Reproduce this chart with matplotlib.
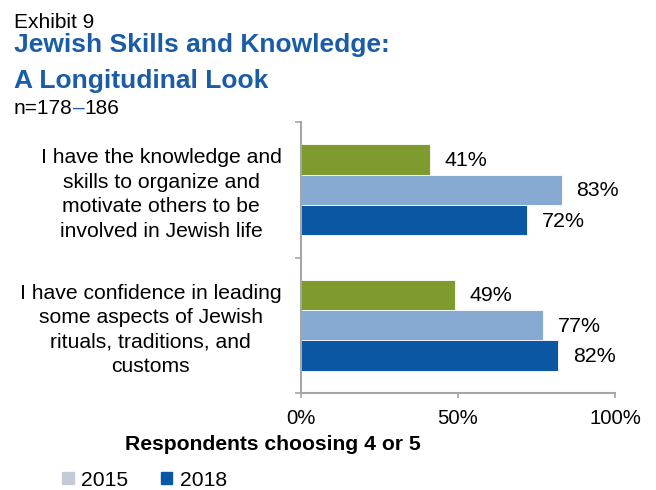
import numpy as np
import matplotlib.pyplot as plt
from matplotlib.patches import Patch

plt.rcParams['font.family'] = ['Liberation Sans', 'DejaVu Sans']

# survey items, top to bottom
items = [
    "I have the knowledge and\nskills to organize and\nmotivate others to be\ninvolved in Jewish life",
    "I have confidence in leading\nsome aspects of Jewish\nrituals, traditions, and\ncustoms",
]
# share of respondents choosing 4 or 5, per wave
wave_green = [41, 49]
wave_2015 = [83, 77]
wave_2018 = [72, 82]
legend_years = ["2015", "2018"]

GREEN = "#7f9a2d"
LIGHT = "#87aad3"
DARK = "#0b57a3"
LEGEND_2015 = "#c3ccd6"
TITLE_BLUE = "#1a5ca8"
GRAY = "#a6a6a6"

W, H = 656, 490
fig = plt.figure(figsize=(W / 100, H / 100), dpi=100)
ax = fig.add_axes([301 / W, 1 - 393 / H, 314 / W, 271 / H])

y = np.arange(len(items))
h = 0.224
for off, vals, col in [(-h, wave_green, GREEN), (0, wave_2015, LIGHT), (h, wave_2018, DARK)]:
    bars = ax.barh(y + off, np.array(vals) / 100, height=h, color=col,
                   edgecolor="white", linewidth=0.6)
    for b, v in zip(bars, vals):
        ax.annotate(f"{v}%", (b.get_width(), b.get_y() + b.get_height() / 2),
                    xytext=(15, -1), textcoords="offset pixels",
                    ha="left", va="center", fontsize=15.4)

ax.set_xlim(0, 1)
ax.set_ylim(len(items) - 0.5, -0.5)

ax.set_xticks([0, 0.5, 1])
ax.set_xticklabels(["0%", "50%", "100%"], fontsize=14.6)
ax.tick_params(axis="x", length=3.5, width=1.2, color=GRAY, pad=8)

ax.set_yticks(y)
ax.set_yticklabels(items, fontsize=15.2, multialignment="center", linespacing=1.365)
ax.set_yticks([-0.5, 0.5, 1.5], minor=True)
ax.tick_params(axis="y", which="major", length=0, pad=14)
ax.tick_params(axis="y", which="minor", length=4, width=1.2, color=GRAY)

for s in ["top", "right"]:
    ax.spines[s].set_visible(False)
for s in ["left", "bottom"]:
    ax.spines[s].set_color(GRAY)
    ax.spines[s].set_linewidth(1.5)

fig.text(273 / W, 1 - 450 / H, "Respondents choosing 4 or 5",
         ha="center", va="baseline", fontsize=15.2, fontweight="bold")

# header block
fig.text(14 / W, 1 - 28 / H, "Exhibit 9", fontsize=15, va="baseline")
fig.text(14 / W, 1 - 52 / H, "Jewish Skills and Knowledge:", fontsize=19,
         fontweight="bold", color=TITLE_BLUE, va="baseline")
fig.text(14 / W, 1 - 88 / H, "A Longitudinal Look", fontsize=19,
         fontweight="bold", color=TITLE_BLUE, va="baseline")

# sample size line, with the range dash in blue
renderer = fig.canvas.get_renderer()
x = 14
for part, col in [("n=178", "black"), ("\u2013", TITLE_BLUE), ("186", "black")]:
    t = fig.text(x / W, 1 - 114 / H, part, fontsize=15, color=col, va="baseline")
    x += t.get_window_extent(renderer).width

handles = [Patch(color=LEGEND_2015), Patch(color=DARK)]
fig.legend(handles, legend_years, loc="center left", bbox_to_anchor=(62 / W, 1 - 480 / H),
           ncol=2, frameon=False, fontsize=15.2, handlelength=0.55, handleheight=0.55,
           handletextpad=0.35, columnspacing=1.55, borderpad=0, borderaxespad=0)

fig.savefig("out.png", dpi=100)
